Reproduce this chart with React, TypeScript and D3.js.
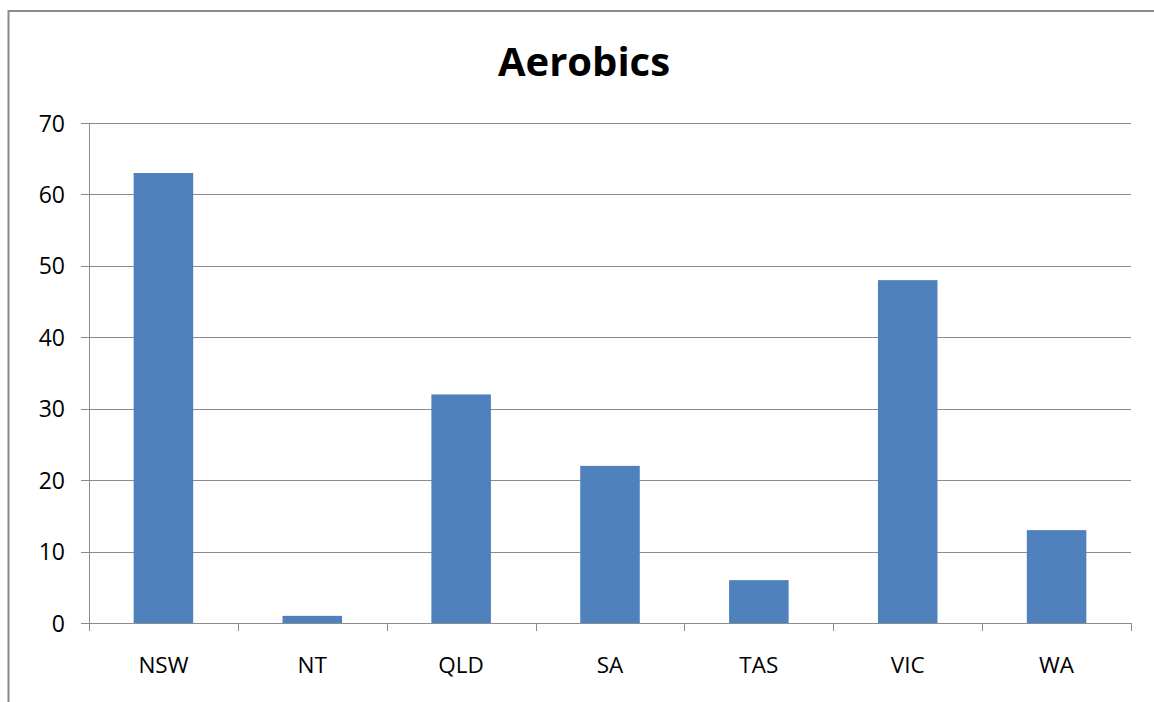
import React from "react";
import * as d3 from "d3";

const categories = ["NSW", "NT", "QLD", "SA", "TAS", "VIC", "WA"];
const values = [63, 1, 32, 22, 6, 48, 13];
const yTicks = [0, 10, 20, 30, 40, 50, 60, 70];
const title = "Aerobics";

const W = 1154;
const H = 702;
const plot = { left: 89, right: 1131, top: 123, bottom: 623 };
const FONT = "'Open Sans', 'Liberation Sans', sans-serif";

export default function App() {
  const x = d3
    .scaleBand<string>()
    .domain(categories)
    .range([plot.left, plot.right])
    .paddingInner(0.6)
    .paddingOuter(0.3);
  const band = d3.scaleBand<string>().domain(categories).range([plot.left, plot.right]);
  const y = d3.scaleLinear().domain([0, 70]).range([plot.bottom, plot.top]);
  const grid = "#8c8c8c";

  return (
    <svg width={W} height={H} style={{ position: "absolute", left: 0, top: 0, background: "#fff" }}>
      <path d={`M8.5,${H} V11 H${W}`} fill="none" stroke="#8a8a8a" strokeWidth={2} />
      <text x={584} y={76} textAnchor="middle" fontFamily={FONT} fontWeight="bold" fontSize={40} fill="#000">
        {title}
      </text>
      {yTicks.map((t) => (
        <g key={t}>
          <line x1={81} x2={plot.right} y1={Math.round(y(t)) + 0.5} y2={Math.round(y(t)) + 0.5} stroke={grid} strokeWidth={1} />
          <text x={65} y={y(t) + 8.5} textAnchor="end" fontFamily={FONT} fontSize={23} fill="#000">
            {t}
          </text>
        </g>
      ))}
      <line x1={plot.left + 0.5} x2={plot.left + 0.5} y1={plot.top} y2={plot.bottom + 8} stroke={grid} />
      {categories.map((c) => (
        <line
          key={"t" + c}
          x1={Math.round(band(c)! + band.bandwidth()) + 0.5}
          x2={Math.round(band(c)! + band.bandwidth()) + 0.5}
          y1={plot.bottom}
          y2={plot.bottom + 8}
          stroke={grid}
        />
      ))}
      {categories.map((c, i) => (
        <rect
          key={c}
          x={x(c)}
          width={x.bandwidth()}
          y={y(values[i])}
          height={y(0) - y(values[i])}
          fill="#4f81bd"
        />
      ))}
      {categories.map((c) => (
        <text
          key={"l" + c}
          x={band(c)! + band.bandwidth() / 2}
          y={673}
          textAnchor="middle"
          fontFamily={FONT}
          fontSize={22.5}
          fill="#000"
        >
          {c}
        </text>
      ))}
    </svg>
  );
}
